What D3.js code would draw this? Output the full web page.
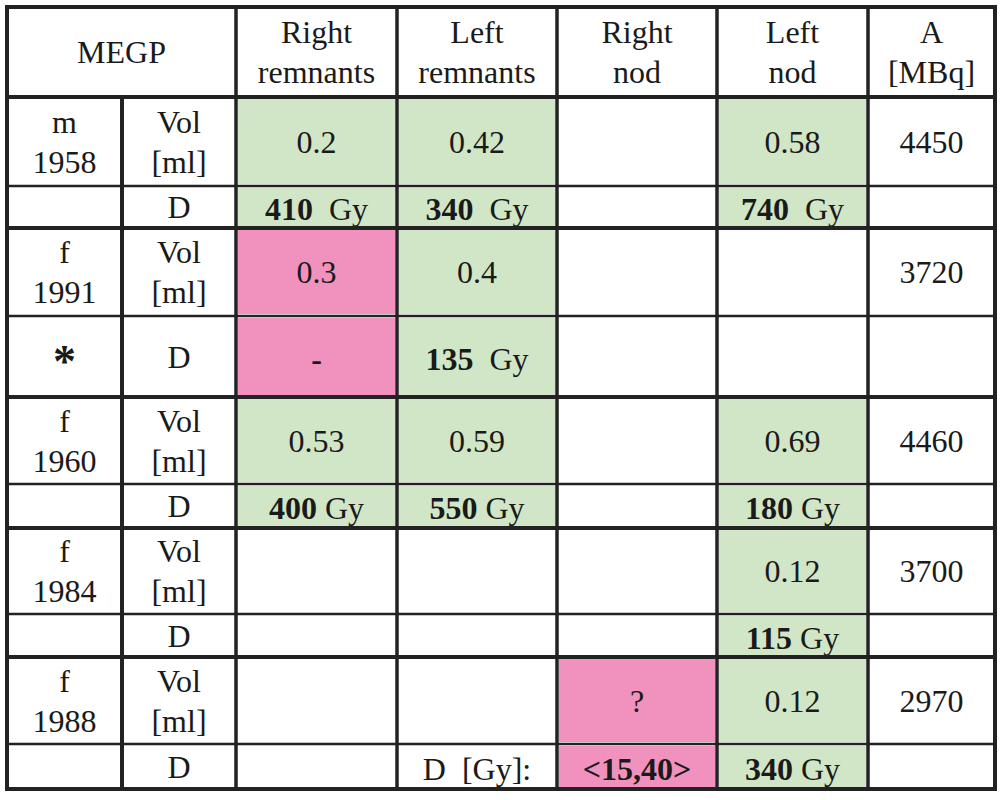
<!DOCTYPE html><html><head><meta charset="utf-8"><script src="https://d3js.org/d3.v7.min.js"></script>
<style>body{margin:0;background:#fff}</style></head><body><svg id="c" width="1002" height="800"></svg>
<script>
const headers=[["Right","remnants"],["Left","remnants"],["Right","nod"],["Left","nod"],["A","[MBq]"]];
const patients=[["m","1958"],["f","1991"],["f","1960"],["f","1984"],["f","1988"]];
const patientMark=["","*","","",""];
const vols=[["0.2","0.42","","0.58"],["0.3","0.4","",""],["0.53","0.59","","0.69"],["","","","0.12"],["","","?","0.12"]];
const doses=[["410","340","","740"],["-","135","",""],["400","550","","180"],["","","","115"],["","D\u00a0\u00a0[Gy]:","<15,40>","340"]];
const activity=["4450","3720","4460","3700","2970"];
const volColor=[["g","g","","g"],["p","g","",""],["g","g","","g"],["","","","g"],["","","p","g"]];
const doseColor=[["g","g","","g"],["p","g","",""],["g","g","","g"],["","","","g"],["","","p","g"]];

const colEdges=[7,122,236,397,557,717,868,995];
const rowEdges=[7,97,186,228,316,397,484,528,614,657,744,789];
const fills={g:"#d0e6c6",p:"#f092bd"};
const svg=d3.select("#c");
const F="'Liberation Serif','Times New Roman',serif";
const cell=(c0,c1,r0,r1,col,lines,opts={})=>{
  const x0=colEdges[c0],x1=colEdges[c1],y0=rowEdges[r0],y1=rowEdges[r1];
  if(col) svg.append("rect").attr("x",x0+2).attr("y",y0+2).attr("width",x1-x0-4).attr("height",y1-y0-4).attr("fill",fills[col]);
  const cx=(x0+x1)/2,cy=(y0+y1)/2+(opts.dy||0),lh=40,fs=opts.fs||32;
  lines.forEach((l,i)=>{
    const t=svg.append("text").attr("x",cx).attr("y",cy+(i-(lines.length-1)/2)*lh).attr("dy","0.35em")
      .attr("text-anchor","middle").attr("font-family",F).attr("font-size",fs).attr("fill","#1a1a1a");
    if(Array.isArray(l)){l.forEach(s=>{const ts=t.append("tspan").text(s.t);if(s.b)ts.attr("font-weight","bold");});}
    else {t.text(l); if(opts.bold) t.attr("font-weight","bold");}
  });
};
cell(0,2,0,1,"",["MEGP"]);
headers.forEach((h,i)=>cell(2+i,3+i,0,1,"",h));
patients.forEach((p,k)=>{
  const rv=1+2*k,rd=2+2*k;
  cell(0,1,rv,rd,"",p);
  if(patientMark[k]) cell(0,1,rd,rd+1,"",[patientMark[k]],{fs:46,bold:true,dy:4});
  cell(1,2,rv,rd,"",["Vol","[ml]"]);
  cell(1,2,rd,rd+1,"",["D"]);
  vols[k].forEach((v,j)=>cell(2+j,3+j,rv,rd,volColor[k][j],v?[v]:[]));
  doses[k].forEach((v,j)=>{
    let lines=[];
    if(v==="-") lines=[[{t:"-",b:true}]];
    else if(v.startsWith("<")) lines=[[{t:v,b:true}]];
    else if(v.startsWith("D")) lines=[v];
    else if(v) lines=[[{t:v,b:true},{t:(k===2||k===4||(k===3))?"\u00a0Gy":"\u00a0\u00a0Gy"}]];
    cell(2+j,3+j,rd,rd+1,doseColor[k][j],lines,{dy:2});
  });
  cell(6,7,rv,rd,"",[activity[k]]);
  cell(6,7,rd,rd+1,"",[]);
});
const g=svg.append("g").attr("stroke","#222");
colEdges.forEach((x,i)=>{
  if(i===1) g.append("line").attr("x1",x).attr("x2",x).attr("y1",rowEdges[1]).attr("y2",rowEdges[11]).attr("stroke-width",4);
  else g.append("line").attr("x1",x).attr("x2",x).attr("y1",rowEdges[0]).attr("y2",rowEdges[11]).attr("stroke-width",i===0||i===7?4:3.5);
});
rowEdges.forEach((y,i)=>{
  const major=(i%2===1)||i===0||i===11;
  g.append("line").attr("x1",colEdges[0]-2).attr("x2",colEdges[7]+2).attr("y1",y).attr("y2",y).attr("stroke-width",major?4:2.5);
});
</script></body></html>
